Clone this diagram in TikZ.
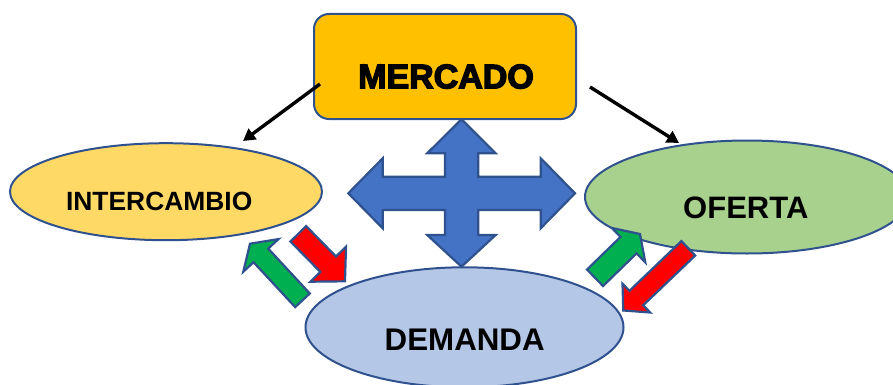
\documentclass[tikz,border=0pt]{standalone}
\usepackage{fontspec}
\setmainfont{Liberation Sans}
\newfontfamily\heavyfont{Liberation Sans}[UprightFont={* Bold}, UprightFeatures={FakeBold=4}]
\usetikzlibrary{shapes.geometric,calc,arrows.meta}
\definecolor{outl}{HTML}{2F528F}
\definecolor{gold}{HTML}{FFC000}
\definecolor{lgold}{HTML}{FFD966}
\definecolor{lgreen}{HTML}{A9D18E}
\definecolor{lblue}{HTML}{B4C7E7}
\definecolor{cblue}{HTML}{4472C4}
\definecolor{bgreen}{HTML}{00B050}
\definecolor{bred}{HTML}{FF0000}
\newcommand\blockarr[6]{%
  \coordinate (T) at #1; \coordinate (P) at #2;
  \coordinate (B) at ($(P)!#5!(T)$);
  \draw[barrow, fill=#6] ($(T)!#3!90:(P)$) -- ($(B)!#3!90:(P)$) -- ($(B)!#4!90:(P)$) -- (P)
     -- ($(B)!#4!-90:(P)$) -- ($(B)!#3!-90:(P)$) -- ($(T)!#3!-90:(P)$) -- cycle;}
\begin{document}
\begin{tikzpicture}[x=1pt,y=-1pt,
  oval/.style={ellipse, draw=outl, line width=2pt, inner sep=0pt},
  lbl/.style={anchor=base, inner sep=0pt, font=\bfseries},
  barrow/.style={draw=outl, line width=2.2pt, line join=miter},
  conn/.style={line width=3.4pt, -{Triangle[length=12pt,width=13pt]}}]
\useasboundingbox (0,0) rectangle (893,385);
% ellipses
\node[oval, fill=lgold, minimum width=312pt, minimum height=97pt] (inter) at (166,191.7) {};
\node[oval, fill=lgreen, minimum width=324pt, minimum height=113pt] (oferta) at (747,197) {};
\node[oval, fill=lblue, minimum width=318pt, minimum height=120pt] (demanda) at (464.5,327.3) {};
% box
\node[draw=outl, line width=2pt, fill=gold, rounded corners=15pt, minimum width=262pt, minimum height=105pt, inner sep=0pt] (mercado) at (445,66.5) {};
% labels
\node[lbl, font=\heavyfont\fontsize{34}{34}\selectfont] (tm) at (446,88.3) {MERCADO};
\node[lbl, font=\bfseries\fontsize{26.4}{26.4}\selectfont] (ti) at (159.2,210) {INTERCAMBIO};
\node[lbl, font=\bfseries\fontsize{31}{31}\selectfont] (to) at (745.8,218.3) {OFERTA};
\node[lbl, font=\bfseries\fontsize{31.3}{31.3}\selectfont] (td) at (464.7,350) {DEMANDA};
% connectors
\coordinate (m1) at (320,84);
\coordinate (i1) at (243,141);
\coordinate (m2) at (590,87);
\coordinate (o1) at (679,143);
\draw[conn] (m1) -- (i1);
\draw[conn] (m2) -- (o1);
% cross arrow
\draw[barrow, fill=cblue] (461.5,119.3) -- (495.7,153.3) -- (478.3,153.3) -- (478.3,176.7)
  -- (540.7,176.7) -- (540.7,158.3) -- (575,193.3) -- (540.7,228.3) -- (540.7,210)
  -- (478.3,210) -- (478.3,235) -- (495.7,235) -- (461.5,266.7) -- (427.2,235)
  -- (445,235) -- (445,210) -- (382.7,210) -- (382.7,228.3) -- (348.3,193.3)
  -- (382.7,158.3) -- (382.7,176.7) -- (445,176.7) -- (445,153.3) -- (427.2,153.3) -- cycle;
% block arrows
\blockarr{(302.5,300.3)}{(250,243.7)}{10pt}{24pt}{16pt}{bgreen}
\blockarr{(298.3,233.8)}{(345,281.3)}{11pt}{25pt}{24pt}{bred}
\blockarr{(595,277.8)}{(640,234)}{11.5pt}{24pt}{16pt}{bgreen}
\blockarr{(688.3,248.3)}{(623.3,310.5)}{10pt}{20pt}{18pt}{bred}
\end{tikzpicture}
\end{document}
